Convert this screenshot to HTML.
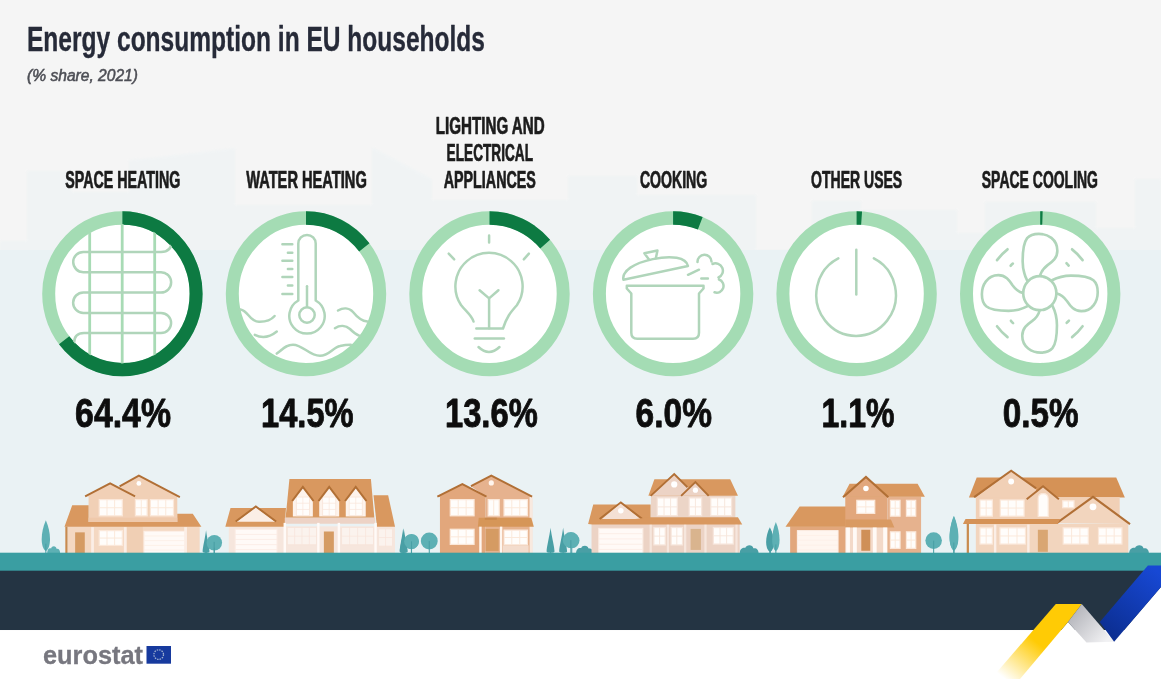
<!DOCTYPE html>
<html lang="en">
<head>
<meta charset="utf-8">
<title>Energy consumption in EU households</title>
<style>
html,body{margin:0;padding:0;background:#f5f5f5;}
body{width:1161px;height:679px;overflow:hidden;font-family:"Liberation Sans",sans-serif;}
svg{display:block;}
text{font-family:"Liberation Sans",sans-serif;}
.lab{font-weight:700;font-size:23px;fill:#1b1b1b;stroke:#1b1b1b;stroke-width:0.7;stroke-linejoin:round;}
.pct{font-weight:700;font-size:40.5px;fill:#0d0d0d;stroke:#0d0d0d;stroke-width:0.9;stroke-linejoin:round;}
.ic{fill:none;stroke:#b0d5ba;stroke-width:2.5;stroke-linecap:round;stroke-linejoin:round;}
</style>
</head>
<body>
<svg width="1161" height="679" viewBox="0 0 1161 679">
<defs>
<linearGradient id="bgg" x1="0" y1="0" x2="0" y2="1">
<stop offset="0" stop-color="#f5f5f5"/><stop offset="1" stop-color="#eaf2f4"/>
</linearGradient>
<linearGradient id="yel" gradientUnits="userSpaceOnUse" x1="1060" y1="610" x2="1005" y2="679">
<stop offset="0" stop-color="#ffcb05"/><stop offset="0.45" stop-color="#ffcb05"/><stop offset="1" stop-color="#ffcb05" stop-opacity="0"/>
</linearGradient>
<linearGradient id="fold" gradientUnits="userSpaceOnUse" x1="1072" y1="612" x2="1105" y2="642">
<stop offset="0" stop-color="#b4b5bb"/><stop offset="1" stop-color="#f1f1f3"/>
</linearGradient>
<linearGradient id="blu" gradientUnits="userSpaceOnUse" x1="1155" y1="570" x2="1108" y2="632">
<stop offset="0" stop-color="#1748d4"/><stop offset="1" stop-color="#0c2f93"/>
</linearGradient>
<filter id="jpg" filterUnits="userSpaceOnUse" x="-20" y="-20" width="1201" height="719"><feGaussianBlur stdDeviation="0.5"/></filter>
<filter id="soft" x="-5%" y="-20%" width="110%" height="140%"><feGaussianBlur stdDeviation="1.2"/></filter>
</defs>

<rect x="0" y="0" width="1161" height="679" fill="#f5f5f5"/>
<polygon points="0,241 27,241 27,171 72,171 72,192 129,192 129,160 168,156 235,148 235,205 372,205 372,147 432,179 432,200 568,200 568,176 637,176 637,195 756,195 756,250 812,250 812,201 861,201 861,210 957,210 957,233 985,233 985,202 1096,202 1096,228 1135,228 1135,179 1161,179 1161,262 0,262" fill="#eaf2f4" opacity="0.42" filter="url(#soft)"/>
<rect x="0" y="250" width="1161" height="310" fill="#eaf2f4"/>
<g filter="url(#jpg)">
<text x="27" y="50.9" font-size="35.5" font-weight="700" fill="#262a38" stroke="#262a38" stroke-width="0.35" stroke-linejoin="round" textLength="458" lengthAdjust="spacingAndGlyphs">Energy consumption in EU households</text>
<text x="27" y="81" font-size="16.5" font-style="italic" fill="#4d4e55" stroke="#4d4e55" stroke-width="0.55" textLength="111" lengthAdjust="spacingAndGlyphs">(% share, 2021)</text>
<text class="lab" x="65.2" y="187.9" textLength="115.1" lengthAdjust="spacingAndGlyphs">SPACE HEATING</text>
<text class="lab" x="246.2" y="187.9" textLength="120.6" lengthAdjust="spacingAndGlyphs">WATER HEATING</text>
<text class="lab" x="435.8" y="134.4" textLength="108.9" lengthAdjust="spacingAndGlyphs">LIGHTING AND</text>
<text class="lab" x="446.6" y="161.0" textLength="86.4" lengthAdjust="spacingAndGlyphs">ELECTRICAL</text>
<text class="lab" x="443.7" y="187.9" textLength="92.2" lengthAdjust="spacingAndGlyphs">APPLIANCES</text>
<text class="lab" x="639.9" y="187.9" textLength="67.3" lengthAdjust="spacingAndGlyphs">COOKING</text>
<text class="lab" x="811.1" y="187.9" textLength="91.1" lengthAdjust="spacingAndGlyphs">OTHER USES</text>
<text class="lab" x="981.8" y="187.9" textLength="116.2" lengthAdjust="spacingAndGlyphs">SPACE COOLING</text>
<text class="pct" x="75.1" y="427.2" textLength="95.9" lengthAdjust="spacingAndGlyphs">64.4%</text>
<text class="pct" x="261.0" y="427.2" textLength="92.6" lengthAdjust="spacingAndGlyphs">14.5%</text>
<text class="pct" x="445.0" y="427.2" textLength="92.7" lengthAdjust="spacingAndGlyphs">13.6%</text>
<text class="pct" x="635.6" y="427.2" textLength="76.3" lengthAdjust="spacingAndGlyphs">6.0%</text>
<text class="pct" x="821.5" y="427.2" textLength="73.0" lengthAdjust="spacingAndGlyphs">1.1%</text>
<text class="pct" x="1002.7" y="427.2" textLength="75.8" lengthAdjust="spacingAndGlyphs">0.5%</text>
<g transform="translate(122.4,293.8) scale(1,1.0287)">
<circle r="79.20" fill="#ffffff"/>
<circle r="73.70" fill="none" stroke="#a4dcb4" stroke-width="13.0"/>
<circle r="73.70" fill="none" stroke="#0a7a43" stroke-width="13.0" stroke-dasharray="298.22 463.07" transform="rotate(-90)"/>
</g>
<g transform="translate(306.0,293.8) scale(1,1.0287)">
<circle r="79.20" fill="#ffffff"/>
<circle r="73.70" fill="none" stroke="#a4dcb4" stroke-width="13.0"/>
<circle r="73.70" fill="none" stroke="#0a7a43" stroke-width="13.0" stroke-dasharray="67.15 463.07" transform="rotate(-90)"/>
</g>
<g transform="translate(489.5,293.8) scale(1,1.0287)">
<circle r="79.20" fill="#ffffff"/>
<circle r="73.70" fill="none" stroke="#a4dcb4" stroke-width="13.0"/>
<circle r="73.70" fill="none" stroke="#0a7a43" stroke-width="13.0" stroke-dasharray="62.98 463.07" transform="rotate(-90)"/>
</g>
<g transform="translate(673.1,293.8) scale(1,1.0287)">
<circle r="79.20" fill="#ffffff"/>
<circle r="73.70" fill="none" stroke="#a4dcb4" stroke-width="13.0"/>
<circle r="73.70" fill="none" stroke="#0a7a43" stroke-width="13.0" stroke-dasharray="27.78 463.07" transform="rotate(-90)"/>
</g>
<g transform="translate(856.6,293.8) scale(1,1.0287)">
<circle r="79.20" fill="#ffffff"/>
<circle r="73.70" fill="none" stroke="#a4dcb4" stroke-width="13.0"/>
<circle r="73.70" fill="none" stroke="#0a7a43" stroke-width="13.0" stroke-dasharray="5.09 463.07" transform="rotate(-90)"/>
</g>
<g transform="translate(1040.2,293.8) scale(1,1.0287)">
<circle r="79.20" fill="#ffffff"/>
<circle r="73.70" fill="none" stroke="#a4dcb4" stroke-width="13.0"/>
<circle r="73.70" fill="none" stroke="#0a7a43" stroke-width="13.0" stroke-dasharray="2.32 463.07" transform="rotate(-90)"/>
</g>
<clipPath id="c1"><ellipse cx="122.4" cy="293.8" rx="67.5" ry="69.8"/></clipPath>
<g class="ic" clip-path="url(#c1)">
<path d="M89.7 220V370M122.2 220V370M154.7 220V370" style="stroke:#a8dbb5;stroke-width:2.8"/>
<path d="M171.5 241.5 Q171.5 252 161 252 H83.3 A10.1 10.1 0 0 0 83.3 272.2 H161 A10.1 10.1 0 0 1 161 292.5 H83.3 A10.2 10.2 0 0 0 83.3 312.9 H161 A10.1 10.1 0 0 1 161 333.1 H84 Q74 333.1 74 343.5"/>
</g>
<g class="ic">
<path d="M298.3 300.5 V243.6 A8.7 8.7 0 0 1 315.7 243.6 V300.5 A17.7 17.7 0 1 1 298.3 300.5"/>
<circle cx="307" cy="315" r="7.7"/>
<path d="M307 286.2V307"/>
<path d="M282.4 244.3H292.3M282.4 260.8H292.3M282.4 277H292.3M282.4 294H292.3M287.9 252.7H292.3M287.9 269H292.3M287.9 285.6H292.3"/>
<path d="M240.4 309.4 C249 311 249 321.5 259 321.8 C267 322 272 319 274.6 316"/>
<path d="M254.8 334.8 C262 338.5 270 337 276.8 331.5"/>
<path d="M338 310.5 C343 307.5 349 307.5 353 312 C357 317 361 321 367.4 321.6"/>
<path d="M334.9 328.2 C340 325 346 325.5 350 329 C353 332 356 334.5 359.6 335.9"/>
<path d="M276.8 353.6 C283 349 286 344.7 293 344.7 C303 344.7 309 355.8 320 355.8 C329 355.8 333 347.5 340 346 C344 345 347 344.7 350.8 344.7"/>
</g>
<g class="ic">
<path d="M473.5 321.5 C471.5 315 466 311.5 461 305 A33.6 33.6 0 1 1 517 305 C511 312 507 316 503 328.5 H476.3"/>
<path d="M474.8 338.6H503.9"/>
<path d="M478.5 347 Q489 357 499.5 347"/>
<path d="M489.1 328.2V298.4M479.6 290.2L489.1 298.4L498.4 290.2"/>
<path d="M489.1 235.5V242.5M448.7 253.6L454.2 259.3M528.9 253.6L523.8 259.3"/>
</g>
<g class="ic">
<path d="M626.8 285.8 H703.5 V288.5 L699 293.5 V332.8 Q699 338.8 693 338.8 H637.3 Q631.3 338.8 631.3 332.8 V293.5 L626.8 288.5 Z"/>
<g transform="translate(655.6,272.4) rotate(-12.1)"><path d="M-33 0.5 C-33 -8.5 -19 -13.6 0 -13.6 C19 -13.6 33 -8.5 33 0.5 Z"/><path d="M-3.6 -13.8 L-7 -21 H6.4 L3.2 -13.8"/></g>
<path d="M688 274.8L699 269.7M701.3 278.5H707.9"/>
<path d="M697.5 262 A7 7 0 0 1 711.5 261.5 M712.5 264 A6.5 6.5 0 1 1 718.5 277.5 M719 279.5 A6.5 6.5 0 0 1 714.5 292.3"/>
</g>
<g class="ic">
<path d="M873.9 258.4 A39.8 40.9 0 1 1 838.3 258.4"/>
<path d="M856.3 249.8V294.6"/>
</g>
<g class="ic" style="stroke-width:2.7" transform="translate(1039.8,293.2) scale(0.975,1)">
<circle r="17"/>
<path d="M-12.9 -12.5 C-16 -18.5 -17.6 -25 -17.6 -32 C-17.6 -42 -17 -50 -13 -55 C-10 -58.5 -5 -59.4 -1 -59.4 C8 -59.4 18 -54 18 -42.5 C18 -35 13 -31.5 8 -28 C4 -25 1.5 -22.5 0.3 -17.5" transform="rotate(0)"/>
<path d="M-12.9 -12.5 C-16 -18.5 -17.6 -25 -17.6 -32 C-17.6 -42 -17 -50 -13 -55 C-10 -58.5 -5 -59.4 -1 -59.4 C8 -59.4 18 -54 18 -42.5 C18 -35 13 -31.5 8 -28 C4 -25 1.5 -22.5 0.3 -17.5" transform="rotate(90)"/>
<path d="M-12.9 -12.5 C-16 -18.5 -17.6 -25 -17.6 -32 C-17.6 -42 -17 -50 -13 -55 C-10 -58.5 -5 -59.4 -1 -59.4 C8 -59.4 18 -54 18 -42.5 C18 -35 13 -31.5 8 -28 C4 -25 1.5 -22.5 0.3 -17.5" transform="rotate(180)"/>
<path d="M-12.9 -12.5 C-16 -18.5 -17.6 -25 -17.6 -32 C-17.6 -42 -17 -50 -13 -55 C-10 -58.5 -5 -59.4 -1 -59.4 C8 -59.4 18 -54 18 -42.5 C18 -35 13 -31.5 8 -28 C4 -25 1.5 -22.5 0.3 -17.5" transform="rotate(270)"/>
<path d="M33.1 -43.9 A55 55 0 0 1 43.9 -33.1 M27.4 -29.9 A40.5 40.5 0 0 1 29.6 -27.6" transform="rotate(0)"/>
<path d="M33.1 -43.9 A55 55 0 0 1 43.9 -33.1 M27.4 -29.9 A40.5 40.5 0 0 1 29.6 -27.6" transform="rotate(90)"/>
<path d="M33.1 -43.9 A55 55 0 0 1 43.9 -33.1 M27.4 -29.9 A40.5 40.5 0 0 1 29.6 -27.6" transform="rotate(180)"/>
<path d="M33.1 -43.9 A55 55 0 0 1 43.9 -33.1 M27.4 -29.9 A40.5 40.5 0 0 1 29.6 -27.6" transform="rotate(270)"/>
</g>
<g transform="translate(30,460) scale(0.17227)"><path d="M92 350 C122.80000000000001 418.25 125.6 506.0 92 529.4 C58.4 506.0 61.199999999999996 418.25 92 350Z" fill="#5db0b4"/><rect x="89" y="486" width="6" height="70" fill="#4a9fa5"/><path d="M100 545 C100 513.5 115.0 511.25 122.5 513.5 C126.25 495.5 152.5 495.5 154.0 515.75 C167.5 513.5 175 522.5 175 545Z" fill="#5db0b4"/><path d="M1022 408 C1026.8 449.1 1042.0 510.75 1042.0 531.3 Q1042.0 539.52 1022 539.52 Q1002.0 539.52 1002.0 531.3 C1002.0 510.75 1017.2 449.1 1022 408Z" fill="#4a9fa5"/><rect x="1019" y="504" width="6" height="53" fill="#4a9fa5"/><circle cx="1070" cy="480" r="45" fill="#5db0b4"/><rect x="1067" y="480" width="6" height="73" fill="#4a9fa5"/><rect x="220" y="385" width="765" height="165" fill="#f4d8c2"/><rect x="560" y="385" width="95" height="165" fill="#f0cfb4"/><rect x="340" y="205" width="515" height="160" fill="#f1d0b6"/><polygon points="245,262 340,262 340,360 855,360 855,312 945,312 995,387 200,387" fill="#d9985e"/><rect x="340" y="335" width="515" height="25" fill="#efc9ab"/><polygon points="465,133 320,212 610,212" fill="#f1d0b6"/><polygon points="632,88 520,155 610,212 870,215" fill="#f1d0b6"/><polyline points="320,211 465,136 610,211" fill="none" stroke="#b16f36" stroke-width="11" stroke-linejoin="miter" stroke-linecap="butt"/><polyline points="520,153 632,91 870,216" fill="none" stroke="#b16f36" stroke-width="11" stroke-linejoin="miter" stroke-linecap="butt"/><circle cx="632" cy="136" r="14" fill="#fff"/><rect x="402" y="230" width="134" height="94" fill="#fffdfb" stroke="#fbe8da" stroke-width="7"/><path d="M447 230V324M491 230V324M402 277H536" stroke="#fbe8da" stroke-width="5.6" fill="none"/><rect x="612" y="230" width="68" height="94" fill="#fffdfb" stroke="#fbe8da" stroke-width="7"/><path d="M646 230V324M612 277H680" stroke="#fbe8da" stroke-width="5.6" fill="none"/><rect x="699" y="230" width="134" height="94" fill="#fffdfb" stroke="#fbe8da" stroke-width="7"/><path d="M744 230V324M788 230V324M699 277H833" stroke="#fbe8da" stroke-width="5.6" fill="none"/><rect x="402" y="410" width="134" height="86" fill="#fffdfb" stroke="#fbe8da" stroke-width="7"/><path d="M447 410V496M491 410V496M402 453H536" stroke="#fbe8da" stroke-width="5.6" fill="none"/><rect x="355" y="390" width="16" height="155" fill="#fbeee6"/><rect x="545" y="390" width="16" height="155" fill="#fbeee6"/><rect x="895" y="390" width="16" height="155" fill="#fbeee6"/><rect x="262" y="420" width="56" height="130" fill="#d59b64"/><rect x="662" y="414" width="236" height="136" fill="#fffaf7" stroke="#fcefe7" stroke-width="6"/><path d="M662 441H898M662 468H898M662 496H898M662 523H898" stroke="#fcefe7" stroke-width="4.8" fill="none"/><rect x="205" y="387" width="13" height="170" fill="#c98b50"/></g>
<g transform="translate(215,460) scale(0.17227)"><circle cx="-5" cy="475" r="34" fill="#5db0b4"/><rect x="-8" y="475" width="6" height="78" fill="#4a9fa5"/><path d="M1092 398 C1096.8 442.1 1112.0 508.25 1112.0 530.3 Q1112.0 539.12 1092 539.12 Q1072.0 539.12 1072.0 530.3 C1072.0 508.25 1087.2 442.1 1092 398Z" fill="#4a9fa5"/><rect x="1089" y="501" width="6" height="56" fill="#4a9fa5"/><circle cx="1140" cy="475" r="43" fill="#5db0b4"/><rect x="1137" y="475" width="6" height="78" fill="#4a9fa5"/><rect x="80" y="385" width="965" height="165" fill="#f6e6dd"/><polygon points="432,110 905,110 925,335 410,335" fill="#d9985e"/><polygon points="920,205 1005,205 1045,387 940,387" fill="#d9985e"/><polygon points="90,278 412,278 405,388 60,388" fill="#d9985e"/><rect x="405" y="335" width="525" height="35" fill="#edd3c6"/><polygon points="510,160 452,235 452,328 568,328 568,235" fill="#fdf3ec"/><rect x="472" y="215" width="76" height="108" fill="#fffdfb" stroke="#f9e6da" stroke-width="5"/><path d="M510 215V323M472 251H548M472 287H548" stroke="#f9e6da" stroke-width="4.0" fill="none"/><polyline points="448,238 510,156 572,238" fill="none" stroke="#b16f36" stroke-width="12" stroke-linejoin="miter" stroke-linecap="butt"/><polygon points="663,160 605,235 605,328 721,328 721,235" fill="#fdf3ec"/><rect x="625" y="215" width="76" height="108" fill="#fffdfb" stroke="#f9e6da" stroke-width="5"/><path d="M663 215V323M625 251H701M625 287H701" stroke="#f9e6da" stroke-width="4.0" fill="none"/><polyline points="601,238 663,156 725,238" fill="none" stroke="#b16f36" stroke-width="12" stroke-linejoin="miter" stroke-linecap="butt"/><polygon points="817,160 759,235 759,328 875,328 875,235" fill="#fdf3ec"/><rect x="779" y="215" width="76" height="108" fill="#fffdfb" stroke="#f9e6da" stroke-width="5"/><path d="M817 215V323M779 251H855M779 287H855" stroke="#f9e6da" stroke-width="4.0" fill="none"/><polyline points="755,238 817,156 879,238" fill="none" stroke="#b16f36" stroke-width="12" stroke-linejoin="miter" stroke-linecap="butt"/><polygon points="237,275 125,358 350,358" fill="#fbeee6"/><polyline points="120,357 237,270 355,357" fill="none" stroke="#b16f36" stroke-width="11" stroke-linejoin="miter" stroke-linecap="butt"/><rect x="420" y="392" width="170" height="100" fill="#fbf3ee" stroke="#f7e4da" stroke-width="5"/><path d="M462 392V492M505 392V492M548 392V492M420 442H590" stroke="#f7e4da" stroke-width="4.0" fill="none"/><rect x="735" y="392" width="185" height="100" fill="#fbf3ee" stroke="#f7e4da" stroke-width="5"/><path d="M781 392V492M828 392V492M874 392V492M735 442H920" stroke="#f7e4da" stroke-width="4.0" fill="none"/><rect x="950" y="400" width="80" height="100" fill="#fbf3ee" stroke="#f7e4da" stroke-width="5"/><path d="M990 400V500M950 450H1030" stroke="#f7e4da" stroke-width="4.0" fill="none"/><rect x="398" y="365" width="14" height="180" fill="#fffaf7"/><rect x="593" y="365" width="14" height="180" fill="#fffaf7"/><rect x="712" y="365" width="14" height="180" fill="#fffaf7"/><rect x="925" y="365" width="14" height="180" fill="#fffaf7"/><rect x="632" y="415" width="58" height="135" fill="#d59b64"/><rect x="117" y="402" width="243" height="148" fill="#fffaf7" stroke="#fbece4" stroke-width="6"/><path d="M117 432H360M117 461H360M117 491H360M117 520H360" stroke="#fbece4" stroke-width="4.8" fill="none"/></g>
<g transform="translate(390,460) scale(0.17227)"><path d="M80 398 C85.52 442.1 103.0 508.25 103.0 530.3 Q103.0 539.12 80 539.12 Q57.0 539.12 57.0 530.3 C57.0 508.25 74.48 442.1 80 398Z" fill="#4a9fa5"/><rect x="77" y="501" width="6" height="56" fill="#4a9fa5"/><circle cx="125" cy="472" r="43" fill="#5db0b4"/><rect x="122" y="472" width="6" height="81" fill="#4a9fa5"/><circle cx="228" cy="470" r="49" fill="#5db0b4"/><rect x="225" y="470" width="6" height="83" fill="#4a9fa5"/><path d="M932 393 C937.52 438.6 955.0 507.0 955.0 529.8 Q955.0 538.92 932 538.92 Q909.0 538.92 909.0 529.8 C909.0 507.0 926.48 438.6 932 393Z" fill="#4a9fa5"/><rect x="929" y="499" width="6" height="58" fill="#4a9fa5"/><path d="M1005 393 C1010.52 438.6 1028.0 507.0 1028.0 529.8 Q1028.0 538.92 1005 538.92 Q982.0 538.92 982.0 529.8 C982.0 507.0 999.48 438.6 1005 393Z" fill="#4a9fa5"/><rect x="1002" y="499" width="6" height="58" fill="#4a9fa5"/><circle cx="1055" cy="468" r="45" fill="#5db0b4"/><rect x="1052" y="468" width="6" height="85" fill="#4a9fa5"/><path d="M1085 545 C1085 513.5 1103.0 511.25 1112.0 513.5 C1116.5 495.5 1148.0 495.5 1149.8 515.75 C1166.0 513.5 1175 522.5 1175 545Z" fill="#4a9fa5"/><rect x="290" y="210" width="265" height="340" fill="#e2a77b"/><rect x="555" y="210" width="270" height="340" fill="#e6b28e"/><rect x="810" y="215" width="18" height="335" fill="#f8e9df"/><polygon points="420,138 275,215 560,215" fill="#e2a77b"/><polygon points="588,88 470,152 560,215 825,215" fill="#e6b28e"/><polyline points="275,213 420,140 560,213" fill="none" stroke="#b16f36" stroke-width="11" stroke-linejoin="miter" stroke-linecap="butt"/><polyline points="470,152 588,91 825,213" fill="none" stroke="#b16f36" stroke-width="11" stroke-linejoin="miter" stroke-linecap="butt"/><circle cx="588" cy="133" r="15" fill="#fff5ee"/><rect x="350" y="230" width="138" height="94" fill="#fffdfb" stroke="#fbe8da" stroke-width="7"/><path d="M396 230V324M442 230V324M350 277H488" stroke="#fbe8da" stroke-width="5.6" fill="none"/><rect x="570" y="230" width="64" height="94" fill="#fffdfb" stroke="#fbe8da" stroke-width="7"/><path d="M602 230V324" stroke="#fbe8da" stroke-width="5.6" fill="none"/><rect x="662" y="230" width="136" height="94" fill="#fffdfb" stroke="#fbe8da" stroke-width="7"/><path d="M707 230V324M753 230V324M662 277H798" stroke="#fbe8da" stroke-width="5.6" fill="none"/><rect x="350" y="402" width="138" height="88" fill="#fffdfb" stroke="#fbe8da" stroke-width="7"/><path d="M396 402V490M442 402V490M350 446H488" stroke="#fbe8da" stroke-width="5.6" fill="none"/><rect x="662" y="407" width="136" height="85" fill="#fffdfb" stroke="#fbe8da" stroke-width="7"/><path d="M707 407V492M753 407V492M662 450H798" stroke="#fbe8da" stroke-width="5.6" fill="none"/><polygon points="515,335 820,335 835,387 510,387" fill="#d69659"/><rect x="550" y="335" width="70" height="12" fill="#c98a4f"/><rect x="518" y="387" width="14" height="160" fill="#fff6ef"/><rect x="638" y="387" width="14" height="160" fill="#fff6ef"/><rect x="555" y="400" width="76" height="128" fill="#d59b64"/><rect x="655" y="495" width="150" height="50" fill="#f3dccd"/></g>
<g transform="translate(570,460) scale(0.17227)"><circle cx="5" cy="465" r="47" fill="#5db0b4"/><rect x="2" y="465" width="6" height="88" fill="#4a9fa5"/><path d="M35 545 C35 512.1 55.0 509.75 65.0 512.1 C70.0 493.3 105.0 493.3 107.0 514.45 C125.0 512.1 135 521.5 135 545Z" fill="#4a9fa5"/><path d="M985 545 C985 510.0 1007.0 507.5 1018.0 510.0 C1023.5 490.0 1062.0 490.0 1064.2 512.5 C1084.0 510.0 1095 520.0 1095 545Z" fill="#4a9fa5"/><path d="M1160 390 C1187.5 444.25 1190.0 514.0 1160 532.6 C1130.0 514.0 1132.5 444.25 1160 390Z" fill="#4a9fa5"/><rect x="1157" y="498" width="6" height="58" fill="#4a9fa5"/><rect x="125" y="370" width="860" height="180" fill="#ecd3c5"/><rect x="470" y="205" width="490" height="130" fill="#ecd5c7"/><polygon points="490,112 930,112 975,207 455,207" fill="#d9985e"/><polygon points="605,80 475,207 645,207 690,160" fill="#ecd3c5"/><polygon points="728,127 645,207 805,207" fill="#ecd3c5"/><polyline points="468,208 605,82 682,158" fill="none" stroke="#b16f36" stroke-width="11" stroke-linejoin="miter" stroke-linecap="butt"/><polyline points="645,208 728,128 805,208" fill="none" stroke="#b16f36" stroke-width="11" stroke-linejoin="miter" stroke-linecap="butt"/><circle cx="605" cy="142" r="18" fill="#fff"/><circle cx="728" cy="175" r="15" fill="#fff"/><rect x="507" y="220" width="116" height="103" fill="#fffdfb" stroke="#f7e6dc" stroke-width="7"/><path d="M546 220V323M584 220V323M507 272H623" stroke="#f7e6dc" stroke-width="5.6" fill="none"/><rect x="692" y="220" width="72" height="103" fill="#fffdfb" stroke="#f7e6dc" stroke-width="7"/><path d="M728 220V323M692 272H764" stroke="#f7e6dc" stroke-width="5.6" fill="none"/><rect x="817" y="220" width="121" height="103" fill="#fffdfb" stroke="#f7e6dc" stroke-width="7"/><path d="M857 220V323M898 220V323M817 272H938" stroke="#f7e6dc" stroke-width="5.6" fill="none"/><polygon points="135,258 468,258 468,372 105,372" fill="#d9985e"/><polygon points="295,250 185,342 410,342" fill="#f4e0d4"/><polyline points="172,343 295,246 420,343" fill="none" stroke="#b16f36" stroke-width="11" stroke-linejoin="miter" stroke-linecap="butt"/><circle cx="295" cy="295" r="16" fill="#fff"/><polygon points="465,332 975,332 1000,374 105,374" fill="#d9985e"/><rect x="167" y="397" width="256" height="153" fill="#fffaf7" stroke="#fbece4" stroke-width="6"/><path d="M167 428H423M167 458H423M167 489H423M167 519H423" stroke="#fbece4" stroke-width="4.8" fill="none"/><rect x="487" y="392" width="66" height="101" fill="#fffdfb" stroke="#f7e6dc" stroke-width="7"/><path d="M520 392V493M487 442H553" stroke="#f7e6dc" stroke-width="5.6" fill="none"/><rect x="587" y="392" width="66" height="101" fill="#fffdfb" stroke="#f7e6dc" stroke-width="7"/><path d="M620 392V493M587 442H653" stroke="#f7e6dc" stroke-width="5.6" fill="none"/><rect x="832" y="392" width="116" height="96" fill="#fffdfb" stroke="#f7e6dc" stroke-width="7"/><path d="M871 392V488M909 392V488M832 440H948" stroke="#f7e6dc" stroke-width="5.6" fill="none"/><rect x="462" y="376" width="13" height="170" fill="#f6e6dd"/><rect x="562" y="376" width="13" height="170" fill="#f6e6dd"/><rect x="662" y="376" width="13" height="170" fill="#f6e6dd"/><rect x="780" y="376" width="13" height="170" fill="#f6e6dd"/><rect x="960" y="376" width="13" height="170" fill="#f6e6dd"/><rect x="700" y="400" width="60" height="122" fill="#d9b48e"/></g>
<g transform="translate(760,460) scale(0.17227)"><path d="M60 400 C85.3 450.75 87.6 516.0 60 533.4 C32.400000000000006 516.0 34.7 450.75 60 400Z" fill="#4a9fa5"/><rect x="57" y="502" width="6" height="56" fill="#4a9fa5"/><path d="M92 360 C119.5 424.75 122.0 508.0 92 530.2 C62.0 508.0 64.5 424.75 92 360Z" fill="#5db0b4"/><rect x="89" y="490" width="6" height="68" fill="#4a9fa5"/><circle cx="1008" cy="468" r="48" fill="#5db0b4"/><rect x="1005" y="468" width="6" height="85" fill="#4a9fa5"/><path d="M1126 325 C1159.0 402.0 1162.0 501.0 1126 527.4 C1090.0 501.0 1093.0 402.0 1126 325Z" fill="#5db0b4"/><rect x="1123" y="479" width="6" height="78" fill="#4a9fa5"/><rect x="175" y="385" width="320" height="165" fill="#e2a77b"/><polygon points="230,270 500,270 520,387 148,387" fill="#d9985e"/><rect x="495" y="212" width="245" height="338" fill="#e2a77b"/><rect x="740" y="212" width="195" height="338" fill="#e6b28e"/><polygon points="520,138 915,138 957,214 480,214" fill="#d9985e"/><polygon points="615,98 495,214 745,214" fill="#e2a77b"/><polyline points="482,216 615,98 745,216" fill="none" stroke="#b16f36" stroke-width="12" stroke-linejoin="miter" stroke-linecap="butt"/><circle cx="615" cy="165" r="16" fill="#fff"/><rect x="562" y="234" width="104" height="76" fill="#fffdfb" stroke="#fbe8da" stroke-width="7"/><path d="M614 234V310M562 272H666" stroke="#fbe8da" stroke-width="5.6" fill="none"/><rect x="757" y="234" width="56" height="92" fill="#fffdfb" stroke="#fbe8da" stroke-width="7"/><path d="M785 234V326M757 280H813" stroke="#fbe8da" stroke-width="5.6" fill="none"/><rect x="850" y="234" width="54" height="92" fill="#fffdfb" stroke="#fbe8da" stroke-width="7"/><path d="M877 234V326M850 280H904" stroke="#fbe8da" stroke-width="5.6" fill="none"/><rect x="757" y="417" width="56" height="96" fill="#fffdfb" stroke="#fbe8da" stroke-width="7"/><path d="M785 417V513M757 465H813" stroke="#fbe8da" stroke-width="5.6" fill="none"/><rect x="850" y="417" width="54" height="96" fill="#fffdfb" stroke="#fbe8da" stroke-width="7"/><path d="M877 417V513M850 465H904" stroke="#fbe8da" stroke-width="5.6" fill="none"/><polygon points="495,345 760,345 780,392 495,392" fill="#d99a62"/><rect x="495" y="392" width="245" height="158" fill="#f3d9c8"/><rect x="500" y="392" width="22" height="155" fill="#fffaf6"/><rect x="540" y="392" width="22" height="155" fill="#fffaf6"/><rect x="655" y="392" width="22" height="155" fill="#fffaf6"/><rect x="715" y="392" width="22" height="155" fill="#fffaf6"/><rect x="588" y="405" width="52" height="122" fill="#cf9059"/><rect x="217" y="410" width="236" height="140" fill="#fff6f0" stroke="#fcefe7" stroke-width="6"/><path d="M217 438H453M217 466H453M217 494H453M217 522H453" stroke="#fcefe7" stroke-width="4.8" fill="none"/></g>
<g transform="translate(950,460) scale(0.17227)"><path d="M22 325 C52.800000000000004 402.0 55.6 501.0 22 527.4 C-11.600000000000001 501.0 -8.800000000000004 402.0 22 325Z" fill="#5db0b4"/><rect x="19" y="479" width="6" height="78" fill="#4a9fa5"/><path d="M1040 545 C1040 510.0 1063.0 507.5 1074.5 510.0 C1080.25 490.0 1120.5 490.0 1122.8 512.5 C1143.5 510.0 1155 520.0 1155 545Z" fill="#4a9fa5"/><polygon points="155,102 965,102 1015,217 110,217" fill="#d59257"/><rect x="150" y="215" width="835" height="135" fill="#f1d0b6"/><rect x="150" y="370" width="885" height="180" fill="#f2d5be"/><polygon points="355,62 148,217 500,217 500,165" fill="#f1d0b6"/><polyline points="140,215 355,62 500,165" fill="none" stroke="#b16f36" stroke-width="12" stroke-linejoin="miter" stroke-linecap="butt"/><circle cx="355" cy="125" r="17" fill="#fff"/><polygon points="540,152 448,228 448,345 632,345 632,228" fill="#f1d0b6"/><polyline points="445,228 540,152 632,228" fill="none" stroke="#b16f36" stroke-width="11" stroke-linejoin="miter" stroke-linecap="butt"/><polygon points="830,214 625,365 1040,372" fill="#f2d5be"/><polyline points="620,366 830,214 1045,372" fill="none" stroke="#b16f36" stroke-width="12" stroke-linejoin="miter" stroke-linecap="butt"/><circle cx="830" cy="272" r="20" fill="#fff"/><rect x="174" y="232" width="72" height="94" fill="#fffdfb" stroke="#fbe8da" stroke-width="7"/><path d="M210 232V326M174 279H246" stroke="#fbe8da" stroke-width="5.6" fill="none"/><rect x="292" y="232" width="138" height="94" fill="#fffdfb" stroke="#fbe8da" stroke-width="7"/><path d="M338 232V326M384 232V326M292 279H430" stroke="#fbe8da" stroke-width="5.6" fill="none"/><path d="M512 328V225Q512 195 541 195Q570 195 570 225V328Z" fill="#fffdfb" stroke="#fbe8da" stroke-width="7"/><rect x="654" y="237" width="66" height="40" fill="#fffdfb" stroke="#fbe8da" stroke-width="7"/><path d="M687 237V277" stroke="#fbe8da" stroke-width="5.6" fill="none"/><polygon points="90,342 640,342 625,372 75,372" fill="#d59257"/><rect x="174" y="394" width="72" height="94" fill="#fffdfb" stroke="#fbe8da" stroke-width="7"/><path d="M210 394V488M174 441H246" stroke="#fbe8da" stroke-width="5.6" fill="none"/><rect x="290" y="394" width="148" height="94" fill="#fffdfb" stroke="#fbe8da" stroke-width="7"/><path d="M339 394V488M389 394V488M290 441H438" stroke="#fbe8da" stroke-width="5.6" fill="none"/><rect x="657" y="394" width="146" height="94" fill="#fffdfb" stroke="#fbe8da" stroke-width="7"/><path d="M706 394V488M754 394V488M657 441H803" stroke="#fbe8da" stroke-width="5.6" fill="none"/><rect x="862" y="394" width="136" height="94" fill="#fffdfb" stroke="#fbe8da" stroke-width="7"/><path d="M907 394V488M953 394V488M862 441H998" stroke="#fbe8da" stroke-width="5.6" fill="none"/><rect x="255" y="375" width="14" height="170" fill="#fbeee6"/><rect x="448" y="375" width="14" height="170" fill="#fbeee6"/><rect x="510" y="405" width="58" height="128" fill="#d9a672"/><rect x="97" y="370" width="13" height="175" fill="#c98b50"/></g>
</g>
<rect x="0" y="552.7" width="1161" height="18.5" fill="#3a9ea2"/>
<rect x="0" y="570.7" width="1161" height="59.4" fill="#243443"/>
<rect x="0" y="630.1" width="1161" height="50" fill="#ffffff"/>
<polygon points="1161,587 1114.1,641.8 1086.5,642.4 1068,621.9 1020,679 1161,679" fill="#ffffff"/>
<polygon points="1055.8,603.9 1081.8,603.9 1068,621.9 1020,679 991,679" fill="url(#yel)"/>
<polygon points="1081.8,603.9 1114.1,641.8 1086.5,642.4 1068,621.9" fill="url(#fold)"/>
<polygon points="1099.8,621.9 1147.9,565.6 1161,565.6 1161,587 1114.1,641.8" fill="url(#blu)"/>
<text x="43" y="663.7" font-size="25" font-weight="700" fill="#77777f" stroke="#77777f" stroke-width="0.3" textLength="100" lengthAdjust="spacingAndGlyphs">eurostat</text>
<rect x="146.5" y="646" width="24.5" height="17.7" fill="#173a9e"/>
<circle cx="158.7" cy="654.6" r="4.8" fill="none" stroke="#9fb0cf" stroke-width="1.3" stroke-dasharray="1.5 1.0"/>
</svg>
</body>
</html>
